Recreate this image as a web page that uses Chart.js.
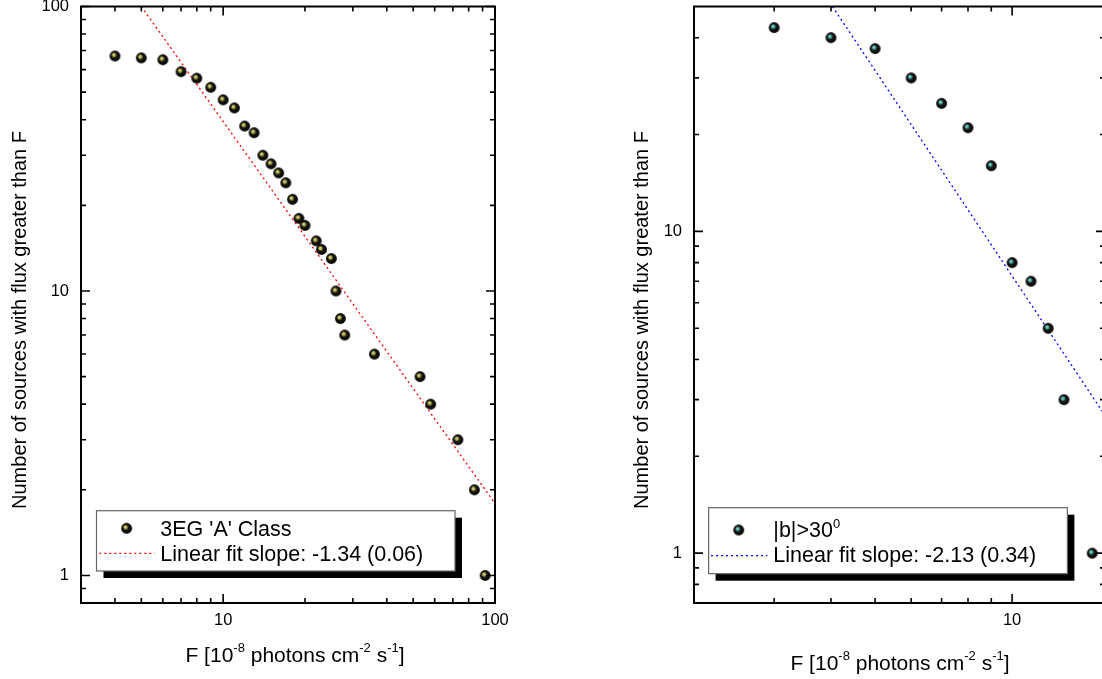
<!DOCTYPE html>
<html>
<head>
<meta charset="utf-8">
<script src="https://cdn.jsdelivr.net/npm/chart.js@4.4.1/dist/chart.umd.min.js"></script>
<style>
    html, body { margin: 0; padding: 0; background: #fff; overflow: hidden; }
    #wrap { position: relative; width: 1102px; height: 679px; overflow: hidden; }
    canvas { position: absolute; top: 0; }
    #panelA { left: 0; }
    #panelB { left: 560px; }
</style>
</head>
<body>
<div id="wrap">
    <canvas id="panelA" width="560" height="679"></canvas>
    <canvas id="panelB" width="560" height="679"></canvas>
</div>
<script>
// Left panel: 3EG 'A' class, N(>F)
const fluxA = [4, 5, 6, 7, 8, 9, 10, 11, 12, 13, 14, 15, 16, 17, 18, 19, 20, 22, 23, 25, 26, 27, 28, 36, 53, 58, 73, 84, 92];
const countA = [67, 66, 65, 59, 56, 52, 47, 44, 38, 36, 30, 28, 26, 24, 21, 18, 17, 15, 14, 13, 10, 8, 7, 6, 5, 4, 3, 2, 1];
// fit line end points
const fitAX = [5, 100];
const fitAY = [100, 1.79];

// Right panel: |b|>30
const fluxB = [3, 4, 5, 6, 7, 8, 9, 10, 11, 12, 13, 15];
const countB = [43, 40, 37, 30, 25, 21, 16, 8, 7, 5, 3, 1];
const fitBX = [4.03, 16];
const fitBY = [50, 2.68];

// axis ticks
const xMajorA = [10, 100];
const xMinorA = [4, 5, 6, 7, 8, 9, 20, 30, 40, 50, 60, 70, 80, 90];
const yMajorA = [1, 10, 100];
const yMinorA = [0.9, 2, 3, 4, 5, 6, 7, 8, 9, 20, 30, 40, 50, 60, 70, 80, 90];
const xMajorB = [10];
const xMinorB = [3, 4, 5, 6, 7, 8, 9];
const yMajorB = [1, 10];
const yMinorB = [0.8, 0.9, 2, 3, 4, 5, 6, 7, 8, 9, 20, 30, 40];

const FONT = '"Liberation Sans", Arial, Helvetica, sans-serif';
const LEG_SIZE = 21.5;

// shaded ball marker like Origin's sphere symbol
function sphere(hi, mid) {
    const c = document.createElement('canvas');
    c.width = 13; c.height = 13;
    const g = c.getContext('2d');
    const grad = g.createRadialGradient(4.9, 4.9, 0, 6.5, 6.5, 5.6);
    grad.addColorStop(0, hi);
    grad.addColorStop(0.28, mid);
    grad.addColorStop(0.5, '#18180f');
    grad.addColorStop(1, '#000');
    g.fillStyle = grad;
    g.beginPath();
    g.arc(6.5, 6.5, 5.4, 0, Math.PI * 2);
    g.fill();
    return c;
}

const ballA = sphere('#fbf6a0', '#a49e48');
const ballB = sphere('#a0f6f6', '#40a0a0');

// text with superscripts: segs = [[text, isSup], ...]
function richWidth(ctx, segs, size, supSize) {
    let w = 0;
    segs.forEach(([t, sup]) => {
        ctx.font = (sup ? supSize : size) + 'px ' + FONT;
        w += ctx.measureText(t).width;
    });
    return w;
}

function drawRich(ctx, segs, x, y, size, supSize, rise) {
    segs.forEach(([t, sup]) => {
        ctx.font = (sup ? supSize : size) + 'px ' + FONT;
        ctx.fillText(t, x, sup ? y - rise : y);
        x += ctx.measureText(t).width;
    });
}

const xTitleSegs = [['F [10', false], ['-8', true], [' photons cm', false], ['-2', true], [' s', false], ['-1', true], [']', false]];

const panelDecor = {
    id: 'panelDecor',
    afterDatasetsDraw(chart, args, o) {
        const ctx = chart.ctx;
        const a = chart.chartArea;
        const xs = chart.scales.x, ys = chart.scales.y;
        ctx.save();

        // inward ticks on all four sides
        ctx.strokeStyle = '#000';
        ctx.lineWidth = 1.6;
        const xTick = (v, len) => {
            const px = xs.getPixelForValue(v);
            ctx.beginPath();
            ctx.moveTo(px, a.bottom); ctx.lineTo(px, a.bottom - len);
            ctx.moveTo(px, a.top); ctx.lineTo(px, a.top + len);
            ctx.stroke();
        };
        const yTick = (v, len) => {
            const py = ys.getPixelForValue(v);
            ctx.beginPath();
            ctx.moveTo(a.left, py); ctx.lineTo(a.left + len, py);
            ctx.moveTo(a.right, py); ctx.lineTo(a.right - len, py);
            ctx.stroke();
        };
        o.xMinor.forEach(v => xTick(v, 5));
        o.xMajor.forEach(v => xTick(v, 9));
        o.yMinor.forEach(v => yTick(v, 5));
        o.yMajor.forEach(v => yTick(v, 9));

        ctx.lineWidth = 2;
        ctx.strokeRect(a.left, a.top, a.right - a.left, a.bottom - a.top);

        // tick labels
        ctx.fillStyle = '#000';
        ctx.font = '16.5px ' + FONT;
        ctx.textBaseline = 'middle';
        ctx.textAlign = 'right';
        o.yMajor.forEach(v => ctx.fillText(String(v), a.left - 12, ys.getPixelForValue(v)));
        ctx.textAlign = 'center';
        o.xMajor.forEach(v => ctx.fillText(String(v), xs.getPixelForValue(v), a.bottom + 17));

        // axis titles
        ctx.textBaseline = 'alphabetic';
        ctx.textAlign = 'left';
        const tw = richWidth(ctx, xTitleSegs, 21, 13);
        drawRich(ctx, xTitleSegs, o.xTitle.cx - tw / 2, o.xTitle.base, 21, 13, 10);

        ctx.save();
        ctx.translate(o.yTitle.base, o.yTitle.cy);
        ctx.rotate(-Math.PI / 2);
        ctx.font = '20px ' + FONT;
        ctx.textAlign = 'center';
        ctx.fillText('Number of sources with flux greater than F', 0, 0);
        ctx.restore();

        // legend box with drop shadow
        const L = o.legend;
        ctx.fillStyle = '#000';
        ctx.fillRect(L.x + 7, L.y + 7, L.w, L.h);
        ctx.fillStyle = '#fff';
        ctx.fillRect(L.x, L.y, L.w, L.h);
        ctx.strokeStyle = '#666';
        ctx.lineWidth = 1.2;
        ctx.strokeRect(L.x, L.y, L.w, L.h);

        ctx.drawImage(L.img, L.mx - 6.5, L.my - 6.5);

        ctx.strokeStyle = L.lineColor;
        ctx.lineWidth = 1.3;
        ctx.setLineDash([2, 3]);
        ctx.beginPath();
        ctx.moveTo(L.lx0, L.ly); ctx.lineTo(L.lx1, L.ly);
        ctx.stroke();
        ctx.setLineDash([]);

        ctx.fillStyle = '#000';
        drawRich(ctx, L.line1, L.tx, L.b1, LEG_SIZE, 13, 9);
        drawRich(ctx, [[L.line2, false]], L.tx, L.b2, LEG_SIZE, 13, 9);

        ctx.restore();
    }
};

function makePanel(id, cfg) {
    return new Chart(document.getElementById(id), {
        type: 'scatter',
        data: {
            datasets: [
                {
                    type: 'line',
                    data: cfg.fitX.map((x, i) => ({ x: x, y: cfg.fitY[i] })),
                    borderColor: cfg.fitColor,
                    borderWidth: 1.3,
                    borderDash: [2, 3],
                    pointRadius: 0,
                    fill: false,
                    order: 2
                },
                {
                    data: cfg.xs.map((x, i) => ({ x: x, y: cfg.ys[i] })),
                    pointStyle: cfg.img,
                    pointRadius: 5.5,
                    order: 1
                }
            ]
        },
        options: {
            responsive: false,
            animation: false,
            events: [],
            layout: { padding: cfg.pad },
            scales: {
                x: { type: 'logarithmic', min: cfg.xmin, max: cfg.xmax, display: false },
                y: { type: 'logarithmic', min: cfg.ymin, max: cfg.ymax, display: false }
            },
            plugins: {
                legend: { display: false },
                tooltip: { enabled: false },
                panelDecor: cfg.decor
            }
        },
        plugins: [panelDecor]
    });
}

makePanel('panelA', {
    xs: fluxA, ys: countA, fitX: fitAX, fitY: fitAY,
    fitColor: '#ff0000', img: ballA,
    xmin: 3, xmax: 100, ymin: 0.8, ymax: 100,
    pad: { left: 81, right: 65, top: 5, bottom: 76 },
    decor: {
        xMajor: xMajorA, xMinor: xMinorA, yMajor: yMajorA, yMinor: yMinorA,
        xTitle: { cx: 295, base: 662 },
        yTitle: { base: 26, cy: 320 },
        legend: {
            x: 96.5, y: 510.7, w: 358.5, h: 60.3,
            img: ballA, mx: 126.6, my: 528.3,
            lineColor: '#ff0000', lx0: 99.3, lx1: 154.7, ly: 553.3,
            tx: 160.3, b1: 535.5, b2: 561,
            line1: [["3EG 'A' Class", false]],
            line2: 'Linear fit slope: -1.34 (0.06)'
        }
    }
});

makePanel('panelB', {
    xs: fluxB, ys: countB, fitX: fitBX, fitY: fitBY,
    fitColor: '#0000ff', img: ballB,
    xmin: 2, xmax: 16, ymin: 0.7, ymax: 50,
    pad: { left: 134, right: 15, top: 5, bottom: 76 },
    decor: {
        xMajor: xMajorB, xMinor: xMinorB, yMajor: yMajorB, yMinor: yMinorB,
        xTitle: { cx: 340, base: 670 },
        yTitle: { base: 88, cy: 320 },
        legend: {
            x: 148.6, y: 507.7, w: 358.8, h: 66,
            img: ballB, mx: 178.7, my: 530,
            lineColor: '#0000ff', lx0: 151, lx1: 207.4, ly: 555.7,
            tx: 213.3, b1: 537, b2: 561.7,
            line1: [['|b|>30', false], ['0', true]],
            line2: 'Linear fit slope: -2.13 (0.34)'
        }
    }
});
</script>
</body>
</html>
